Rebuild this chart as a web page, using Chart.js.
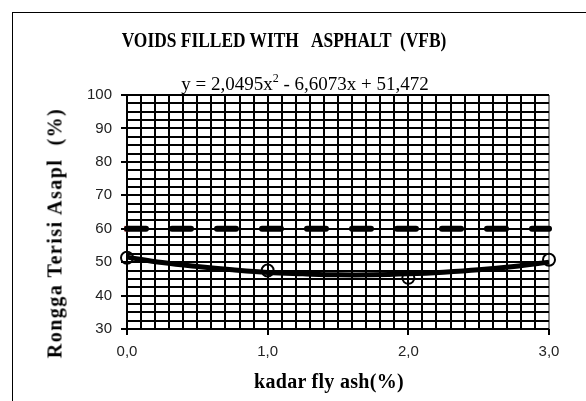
<!DOCTYPE html>
<html>
<head>
<meta charset="utf-8">
<script src="https://cdn.jsdelivr.net/npm/chart.js@4/dist/chart.umd.min.js"></script>
<style>
    body { margin: 0; background: #fff; }
    .wrap { position: relative; width: 586px; height: 401px; overflow: hidden; }
    .frame { position: absolute; left: 12px; top: 12px; width: 620px; height: 420px;
             border-top: 1.5px solid #000; border-left: 1.5px solid #000; }
    canvas { position: absolute; left: 0; top: 0; }
    .txt { position: absolute; font-family: "Liberation Serif", "Times New Roman", serif;
           color: #000; white-space: pre; transform: translate(-50%, -50%); }
    .title { left: 284px; top: 40px; font-size: 20px; font-weight: bold;
             transform: translate(-50%, -50%) scaleX(0.87); }
    .eq { left: 305px; top: 83px; font-size: 19px; }
    .ytitle { left: 55px; top: 233px; font-size: 20px; font-weight: bold; letter-spacing: 1.5px;
              transform: translate(-50%, -50%) rotate(-90deg); }
    .xtitle { left: 329px; top: 381px; font-size: 20px; font-weight: bold; letter-spacing: 0.3px; }
</style>
</head>
<body>
<div class="wrap">
    <div class="frame"></div>
    <canvas id="vfbChart" width="586" height="401"></canvas>
    <div class="txt title">VOIDS FILLED WITH   ASPHALT  (VFB)</div>
    <div class="txt eq">y = 2,0495x<sup style="font-size:12px">2</sup> - 6,6073x + 51,472</div>
    <div class="txt ytitle">Rongga Terisi Asapl  (%)</div>
    <div class="txt xtitle">kadar fly ash(%)</div>
</div>
<script>
// measured VFB values per fly ash content
const flyAsh = [0, 1, 2, 3];
const vfb = [51.3, 47.5, 45.3, 50.7];

// polynomial trend line
const trendX = [0, 0.25, 0.5, 0.75, 1.0, 1.25, 1.5, 1.75, 2.0, 2.25, 2.5, 2.75, 3.0];
const trendY = [51.5, 49.9, 48.7, 47.7, 46.9, 46.5, 46.2, 46.2, 46.5, 47.0, 47.7, 48.7, 50.0];

// specification limit
const limitX = [0, 3];
const limitY = [60, 60];

const tickFont = { family: "'Liberation Sans Narrow', 'Arial Narrow', 'Liberation Sans', sans-serif", size: 15 };

const isMajor = (v, step) => Math.abs(v / step - Math.round(v / step)) < 1e-6;

const ctx = document.getElementById('vfbChart').getContext('2d');
new Chart(ctx, {
    data: {
        datasets: [
            {
                type: 'line',
                data: limitX.map((x, i) => ({ x, y: limitY[i] })),
                borderColor: '#000',
                borderWidth: 6,
                borderDash: [19, 26],
                borderCapStyle: 'round',
                pointRadius: 0,
                clip: false
            },
            {
                type: 'scatter',
                data: [{ x: limitX[0], y: limitY[0] }],
                pointStyle: 'rect',
                pointRadius: 4,
                backgroundColor: '#d24b4b',
                borderColor: '#d24b4b',
                borderWidth: 0,
                clip: false
            },
            {
                type: 'line',
                data: trendX.map((x, i) => ({ x, y: trendY[i] })),
                borderColor: '#000',
                borderWidth: 5,
                tension: 0.4,
                pointRadius: 0,
                clip: false
            },
            {
                type: 'scatter',
                data: flyAsh.map((x, i) => ({ x, y: vfb[i] })),
                pointStyle: 'circle',
                pointRadius: 6,
                borderWidth: 2,
                borderColor: '#000',
                backgroundColor: 'rgba(0,0,0,0)',
                clip: false
            }
        ]
    },
    options: {
        responsive: false,
        animation: false,
        layout: { padding: { top: 95, right: 37, left: 0, bottom: 0 } },
        plugins: {
            legend: { display: false },
            tooltip: { enabled: false }
        },
        scales: {
            x: {
                type: 'linear',
                min: 0,
                max: 3,
                afterFit: (scale) => { scale.height = 72; },
                border: { display: false },
                grid: {
                    color: (c) => (c.tick && c.tick.value === 3 ? '#8a8a8a' : '#000'),
                    lineWidth: 2,
                    tickLength: 6,
                    tickColor: (c) => (c.tick && isMajor(c.tick.value, 1) ? '#000' : 'rgba(0,0,0,0)')
                },
                ticks: {
                    stepSize: 0.1,
                    autoSkip: false,
                    maxRotation: 0,
                    padding: 8,
                    color: '#222',
                    font: tickFont,
                    callback: (v) => (isMajor(v, 1) ? v.toFixed(1).replace('.', ',') : '')
                }
            },
            y: {
                type: 'linear',
                min: 30,
                max: 100,
                afterFit: (scale) => { scale.width = 127; },
                border: { display: false },
                grid: {
                    color: '#000',
                    lineWidth: 2,
                    tickLength: 6,
                    tickColor: (c) => (c.tick && isMajor(c.tick.value, 10) ? '#000' : 'rgba(0,0,0,0)')
                },
                ticks: {
                    stepSize: 2.5,
                    autoSkip: false,
                    padding: 9,
                    color: '#222',
                    font: tickFont,
                    callback: (v) => (isMajor(v, 10) ? String(v) : '')
                }
            }
        }
    }
});
</script>
</body>
</html>
